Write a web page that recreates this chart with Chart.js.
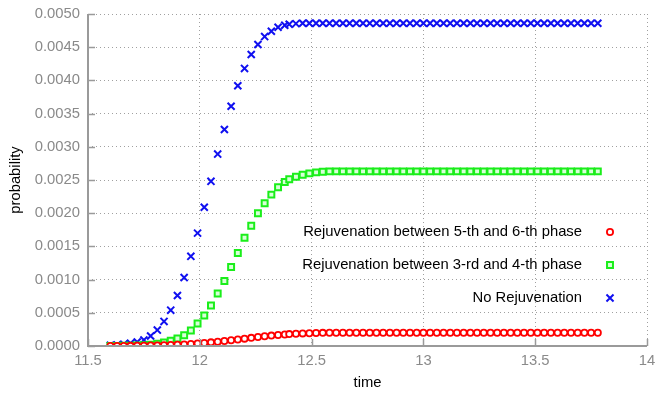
<!DOCTYPE html>
<html>
<head>
<meta charset="utf-8">
<script src="https://cdn.jsdelivr.net/npm/chart.js@4.4.1/dist/chart.umd.min.js"></script>
<style>
  html, body { margin: 0; padding: 0; background: #fff; }
  #wrap { width: 659px; height: 396px; }
</style>
</head>
<body>
<div id="wrap"><canvas id="probChart" width="659" height="396"></canvas></div>
<script>
// time grid of the samples
const times = [
  11.60, 11.63, 11.66, 11.69, 11.72, 11.75, 11.78, 11.81, 11.84, 11.87,
  11.90, 11.93, 11.96, 11.99, 12.02, 12.05, 12.08, 12.11, 12.14, 12.17,
  12.20, 12.23, 12.26, 12.29, 12.32, 12.35, 12.38,
  12.40, 12.43, 12.46, 12.49, 12.52, 12.55, 12.58, 12.61, 12.64, 12.67,
  12.70, 12.73, 12.76, 12.79, 12.82, 12.85, 12.88, 12.91, 12.94, 12.97,
  13.00, 13.03, 13.06, 13.09, 13.12, 13.15, 13.18, 13.21, 13.24, 13.27,
  13.30, 13.33, 13.36, 13.39, 13.42, 13.45, 13.48, 13.51, 13.54, 13.57,
  13.60, 13.63, 13.66, 13.69, 13.72, 13.75, 13.78
];

// probabilities (x 1e-3)
const rejuv56 = [
  0.000, 0.000, 0.001, 0.002, 0.003, 0.005, 0.007, 0.009, 0.012, 0.015,
  0.019, 0.024, 0.030, 0.038, 0.046, 0.055, 0.065, 0.076, 0.087, 0.099,
  0.111, 0.123, 0.135, 0.146, 0.157, 0.166, 0.174,
  0.179, 0.185, 0.190, 0.193, 0.196, 0.198, 0.199, 0.200, 0.200, 0.200,
  0.200, 0.200, 0.200, 0.200, 0.200, 0.200, 0.200, 0.200, 0.200, 0.200,
  0.200, 0.200, 0.200, 0.200, 0.200, 0.200, 0.200, 0.200, 0.200, 0.200,
  0.200, 0.200, 0.200, 0.200, 0.200, 0.200, 0.200, 0.200, 0.200, 0.200,
  0.200, 0.200, 0.200, 0.200, 0.200, 0.200, 0.200
];
const rejuv34 = [
  0.000, 0.002, 0.004, 0.006, 0.009, 0.013, 0.020, 0.033, 0.055, 0.080,
  0.113, 0.163, 0.233, 0.340, 0.460, 0.610, 0.790, 0.980, 1.190, 1.400,
  1.630, 1.810, 2.000, 2.150, 2.280, 2.390, 2.470,
  2.510, 2.550, 2.580, 2.600, 2.615, 2.625, 2.630, 2.630, 2.630, 2.630,
  2.630, 2.630, 2.630, 2.630, 2.630, 2.630, 2.630, 2.630, 2.630, 2.630,
  2.630, 2.630, 2.630, 2.630, 2.630, 2.630, 2.630, 2.630, 2.630, 2.630,
  2.630, 2.630, 2.630, 2.630, 2.630, 2.630, 2.630, 2.630, 2.630, 2.630,
  2.630, 2.630, 2.630, 2.630, 2.630, 2.630, 2.630
];
const noRejuv = [
  0.010, 0.015, 0.025, 0.040, 0.060, 0.090, 0.150, 0.240, 0.370, 0.540,
  0.760, 1.030, 1.350, 1.700, 2.090, 2.480, 2.890, 3.260, 3.610, 3.920,
  4.180, 4.390, 4.540, 4.660, 4.740, 4.800, 4.830,
  4.845, 4.855, 4.860, 4.860, 4.860, 4.860, 4.860, 4.860, 4.860, 4.860,
  4.860, 4.860, 4.860, 4.860, 4.860, 4.860, 4.860, 4.860, 4.860, 4.860,
  4.860, 4.860, 4.860, 4.860, 4.860, 4.860, 4.860, 4.860, 4.860, 4.860,
  4.860, 4.860, 4.860, 4.860, 4.860, 4.860, 4.860, 4.860, 4.860, 4.860,
  4.860, 4.860, 4.860, 4.860, 4.860, 4.860, 4.860
];

const seriesLabels = [
  "Rejuvenation between 5-th and 6-th phase",
  "Rejuvenation between 3-rd and 4-th phase",
  "No Rejuvenation"
];

const toPoints = (vals) => vals.map((v, i) => ({ x: times[i], y: v / 1000 }));

const FONT = "'Liberation Sans', Arial, sans-serif";
const FONT_SIZE = 14.8;
const AXIS_GRAY = "#9a9a9a";
const GRID_DASH = [1, 3];

// inward ticks, solid left/bottom axes and the legend
const decor = {
  id: "decor",
  afterDatasetsDraw(chart) {
    const { ctx, chartArea: a, scales } = chart;
    ctx.save();
    ctx.strokeStyle = AXIS_GRAY;
    ctx.lineWidth = 1.5;
    scales.y.ticks.forEach((t) => {
      const y = Math.round(scales.y.getPixelForValue(t.value)) + 0.5;
      ctx.beginPath();
      ctx.moveTo(a.left, y);
      ctx.lineTo(a.left + 7, y);
      ctx.stroke();
    });
    scales.x.ticks.forEach((t) => {
      const x = Math.round(scales.x.getPixelForValue(t.value)) + 0.5;
      ctx.beginPath();
      ctx.moveTo(x, a.bottom);
      ctx.lineTo(x, a.bottom - 7);
      ctx.stroke();
    });
    ctx.lineWidth = 2;
    ctx.beginPath();
    ctx.moveTo(a.left, a.top);
    ctx.lineTo(a.left, a.bottom);
    ctx.lineTo(a.right, a.bottom);
    ctx.stroke();

    // legend
    ctx.font = FONT_SIZE + "px " + FONT;
    ctx.textAlign = "right";
    ctx.textBaseline = "middle";
    const rows = [232, 265, 298];
    chart.data.datasets.forEach((ds, i) => {
      ctx.fillStyle = "#000";
      ctx.fillText(ds.label, 582, rows[i]);
      ctx.save();
      ctx.fillStyle = ds.backgroundColor;
      ctx.strokeStyle = ds.borderColor;
      ctx.lineWidth = ds.borderWidth;
      Chart.helpers.drawPoint(ctx, {
        pointStyle: ds.pointStyle,
        radius: ds.pointRadius,
        borderWidth: ds.borderWidth
      }, 610, rows[i]);
      ctx.restore();
    });
    ctx.restore();
  }
};

const data = {
  datasets: [
    {
      label: seriesLabels[0],
      data: toPoints(rejuv56),
      pointStyle: "circle",
      pointRadius: 3.1,
      borderWidth: 1.8,
      borderColor: "#ff0000",
      backgroundColor: "#ffffff"
    },
    {
      label: seriesLabels[1],
      data: toPoints(rejuv34),
      pointStyle: "rect",
      pointRadius: 4.2,
      borderWidth: 2,
      borderColor: "#1aee1a",
      backgroundColor: "#d8ffd8"
    },
    {
      label: seriesLabels[2],
      data: toPoints(noRejuv),
      pointStyle: "crossRot",
      pointRadius: 5,
      borderWidth: 2,
      borderColor: "#1010f0",
      backgroundColor: "#1010f0"
    }
  ]
};

const config = {
  type: "scatter",
  data: data,
  options: {
    responsive: false,
    animation: false,
    events: [],
    layout: { padding: { top: 14, right: 12, left: 0, bottom: 0 } },
    plugins: {
      legend: { display: false },
      tooltip: { enabled: false }
    },
    elements: { point: { hoverRadius: 0 } },
    scales: {
      x: {
        type: "linear",
        min: 11.5,
        max: 14,
        afterFit: (scale) => {
          scale.height = 50;
          scale.paddingLeft = 0;
          scale.paddingRight = 0;
        },
        ticks: {
          stepSize: 0.5,
          color: "#8a8a8a",
          font: { family: FONT, size: FONT_SIZE },
          padding: 6,
          callback: (v) => String(+v.toFixed(1))
        },
        grid: { color: "#a0a0a0", lineWidth: 1, drawTicks: false },
        border: { display: false, dash: GRID_DASH },
        title: {
          display: true,
          text: "time",
          color: "#000",
          font: { family: FONT, size: FONT_SIZE },
          padding: { top: 0, bottom: 4 }
        }
      },
      y: {
        min: 0,
        max: 0.005,
        afterFit: (scale) => {
          scale.width = 88;
          scale.paddingTop = 0;
          scale.paddingBottom = 0;
        },
        ticks: {
          stepSize: 0.0005,
          color: "#8a8a8a",
          font: { family: FONT, size: FONT_SIZE },
          padding: 8,
          callback: (v) => v.toFixed(4)
        },
        grid: { color: "#a0a0a0", lineWidth: 1, drawTicks: false },
        border: { display: false, dash: GRID_DASH },
        title: {
          display: true,
          text: "probability",
          color: "#000",
          font: { family: FONT, size: FONT_SIZE },
          padding: { top: 7, bottom: 0 }
        }
      }
    }
  },
  plugins: [decor]
};

const chart = new Chart(document.getElementById("probChart"), config);
</script>
</body>
</html>
